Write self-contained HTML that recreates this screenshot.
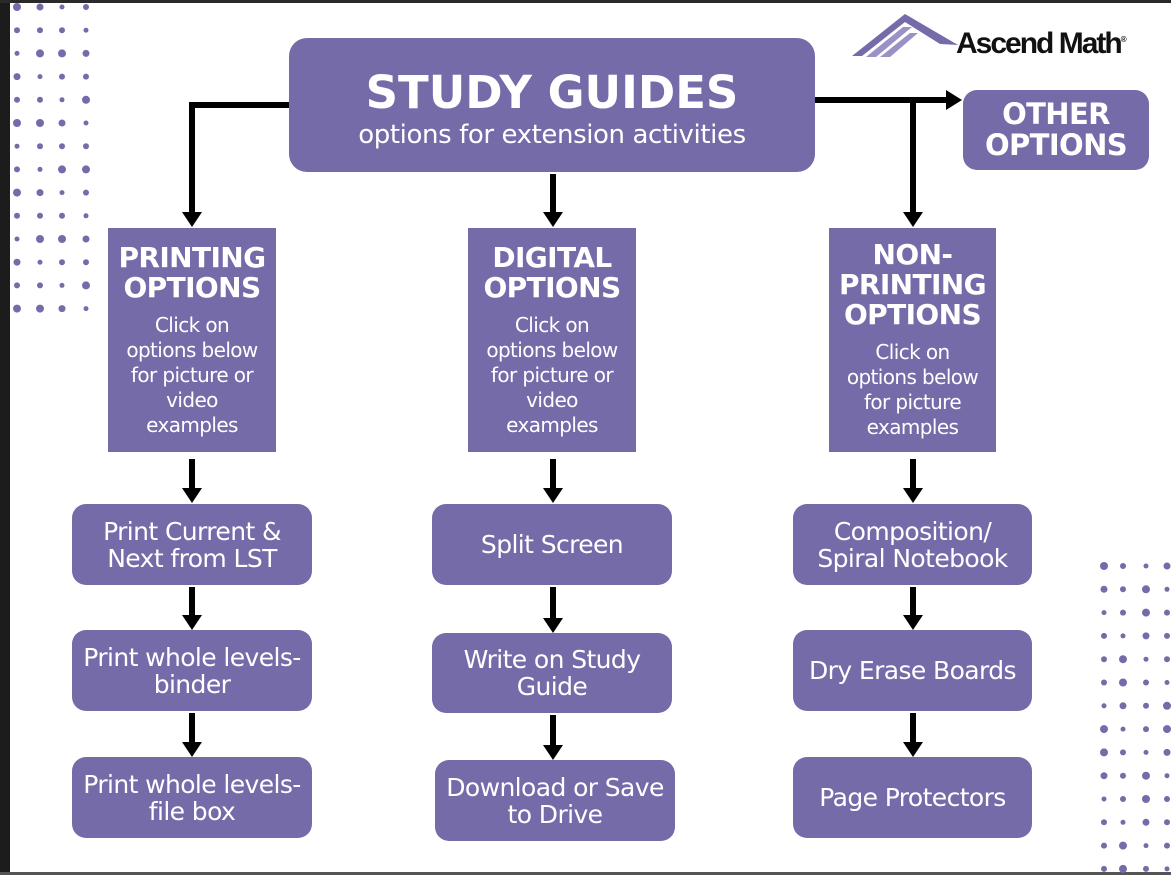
<!DOCTYPE html>
<html><head><meta charset="utf-8"><style>
body{margin:0;width:1171px;height:875px;position:relative;background:#fff;overflow:hidden;font-family:"DejaVu Sans","Liberation Sans",sans-serif;color:#fff}
.b{position:absolute;background:#756ba9;display:flex;flex-direction:column;align-items:center;justify-content:center;text-align:center;box-sizing:border-box}
.r{border-radius:14px;font-size:25px;line-height:27px;letter-spacing:-0.6px}
.h{font-weight:bold;font-size:28px;line-height:30px;letter-spacing:-0.6px}
.s{font-size:20px;line-height:25px;margin-top:10px;letter-spacing:-0.6px}
svg{position:absolute;left:0;top:0}
</style></head><body>
<div style="position:absolute;left:0;top:0;width:10px;height:875px;background:#1c1c1c"></div>
<div style="position:absolute;left:0;top:0;width:1171px;height:3px;background:#2a2a2a"></div>
<div style="position:absolute;left:0;top:872px;width:1171px;height:3px;background:#555"></div>
<svg width="1171" height="875">
<g fill="#756ba9" id="dots"></g>
<g fill="#756ba9">
<polygon points="852,56 905,14 958,45 940,44 905,22 862,56" />
<polygon points="866,57 903,27 912,27 876,57" fill="#9a92c6"/>
<polygon points="880,57 910,33 918,33 890,57" fill="#9a92c6"/>
</g>
<g stroke="#000" stroke-width="6" fill="none">
<polyline points="289,105 192,105 192,214"/>
<line x1="553" y1="174" x2="553" y2="214"/>
<line x1="815" y1="100" x2="948" y2="100"/>
<line x1="913" y1="103" x2="913" y2="214"/>
<line x1="192" y1="459" x2="192" y2="490"/><line x1="553" y1="459" x2="553" y2="490"/><line x1="913" y1="459" x2="913" y2="490"/>
<line x1="192" y1="587" x2="192" y2="617"/><line x1="553" y1="587" x2="553" y2="620"/><line x1="913" y1="587" x2="913" y2="617"/>
<line x1="192" y1="713" x2="192" y2="744"/><line x1="553" y1="715" x2="553" y2="747"/><line x1="913" y1="713" x2="913" y2="744"/>
</g>
<g fill="#000">
<polygon points="182,212 202,212 192,227"/><polygon points="543,212 563,212 553,227"/><polygon points="903,212 923,212 913,227"/>
<polygon points="946,90 946,110 962,100"/>
<polygon points="182,488 202,488 192,503"/><polygon points="543,488 563,488 553,503"/><polygon points="903,488 923,488 913,503"/>
<polygon points="182,615 202,615 192,630"/><polygon points="543,618 563,618 553,633"/><polygon points="903,615 923,615 913,630"/>
<polygon points="182,742 202,742 192,757"/><polygon points="543,745 563,745 553,760"/><polygon points="903,742 923,742 913,757"/>
</g>
</svg>
<div style="position:absolute;left:956px;top:27px;font:bold 30px 'Liberation Sans',sans-serif;color:#111;letter-spacing:-2px">Ascend Math<sup style="font-size:8px">®</sup></div>
<div class="b" style="left:289px;top:38px;width:526px;height:134px;border-radius:18px;padding-top:10px">
<div style="font-weight:bold;font-size:45px;line-height:50px">STUDY GUIDES</div>
<div style="font-size:26px;line-height:34px;letter-spacing:-0.4px">options for extension activities</div></div>
<div class="b" style="left:963px;top:90px;width:186px;height:80px;border-radius:14px"><div class="h" style="font-size:29px;line-height:31px">OTHER<br>OPTIONS</div></div>
<div class="b" style="left:108px;top:228px;width:168px;height:224px"><div class="h">PRINTING<br>OPTIONS</div><div class="s">Click on<br>options below<br>for picture or<br>video<br>examples</div></div>
<div class="b" style="left:468px;top:228px;width:168px;height:224px"><div class="h">DIGITAL<br>OPTIONS</div><div class="s">Click on<br>options below<br>for picture or<br>video<br>examples</div></div>
<div class="b" style="left:829px;top:228px;width:167px;height:224px"><div class="h">NON-<br>PRINTING<br>OPTIONS</div><div class="s">Click on<br>options below<br>for picture<br>examples</div></div>
<div class="b r" style="left:72px;top:504px;width:240px;height:81px">Print Current &amp;<br>Next from LST</div>
<div class="b r" style="left:432px;top:504px;width:240px;height:81px">Split Screen</div>
<div class="b r" style="left:793px;top:504px;width:239px;height:81px">Composition/<br>Spiral Notebook</div>
<div class="b r" style="left:72px;top:630px;width:240px;height:81px">Print whole levels-<br>binder</div>
<div class="b r" style="left:432px;top:633px;width:240px;height:80px">Write on Study<br>Guide</div>
<div class="b r" style="left:793px;top:630px;width:239px;height:81px">Dry Erase Boards</div>
<div class="b r" style="left:72px;top:757px;width:240px;height:81px">Print whole levels-<br>file box</div>
<div class="b r" style="left:435px;top:760px;width:240px;height:81px">Download or Save<br>to Drive</div>
<div class="b r" style="left:793px;top:757px;width:239px;height:81px">Page Protectors</div>
<script>
var g=document.getElementById('dots'),s='';
var rs=[4,3,2.5,3.5,3,4,2.5,3];
for(var i=0;i<14;i++){var xs=[17,40,62,86];for(var j=0;j<4;j++){s+='<circle cx="'+xs[j]+'" cy="'+(7+i*23.2)+'" r="'+rs[(i+j*3)%8]+'"/>';}}
for(var i=0;i<14;i++){var xs=[1104,1123,1146,1167];for(var j=0;j<4;j++){s+='<circle cx="'+xs[j]+'" cy="'+(566+i*23.3)+'" r="'+rs[(i*3+j)%8]+'"/>';}}
g.innerHTML=s;
</script>
</body></html>
